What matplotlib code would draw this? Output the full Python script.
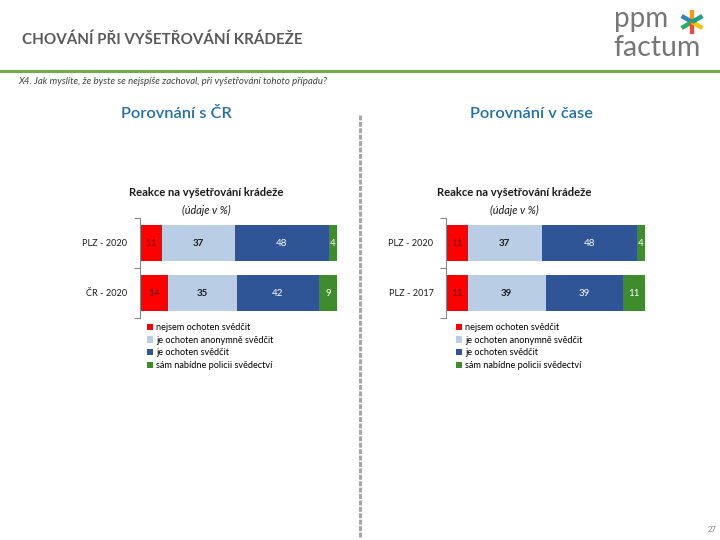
import matplotlib
matplotlib.use("Agg")
import matplotlib.pyplot as plt
from matplotlib.lines import Line2D
import numpy as np

# ---- data ----
categories_left = ["PLZ - 2020", "ČR - 2020"]
categories_right = ["PLZ - 2020", "PLZ - 2017"]
series_names = ["nejsem ochoten svědčit", "je ochoten anonymně svědčit",
                "je ochoten svědčit", "sám nabídne policii svědectví"]
left_values = [[11, 14], [37, 35], [48, 42], [4, 9]]
right_values = [[11, 11], [37, 39], [48, 39], [4, 11]]

colors = ["#FF0000", "#B9CDE5", "#2F5597", "#3F8C2C"]
label_colors = ["#5a0000", "#1a1a1a", "white", "white"]

FONT = ["Lato", "DejaVu Sans"]
plt.rcParams['font.family'] = FONT

W, H = 720, 540
fig = plt.figure(figsize=(7.2, 5.4), dpi=100)

def fx(x): return x / W
def fy(y): return 1 - y / H

# header
fig.text(fx(22), fy(40), "CHOVÁNÍ PŘI VYŠETŘOVÁNÍ KRÁDEŽE", fontsize=10.9,
         fontweight='bold', color="#595959", va='center', ha='left')
fig.add_artist(Line2D([0, 1], [fy(71), fy(71)], color="#70AD47", lw=2.2,
                      transform=fig.transFigure))
fig.text(fx(18), fy(81), "X4. Jak myslíte, že byste se nejspíše zachoval, při vyšetřování tohoto případu?",
         fontsize=6.9, style='italic', color="#404040", va='center', ha='left')
fig.text(fx(176), fy(114), "Porovnání s ČR", fontsize=11.8, color="#1F6FA5",
         va='center', ha='center', fontweight='semibold')
fig.text(fx(532), fy(114), "Porovnání v čase", fontsize=11.8, color="#1F6FA5",
         va='center', ha='center', fontweight='semibold')

# dashed separator
fig.add_artist(Line2D([fx(360), fx(360)], [fy(115), fy(538)], color="#A6A6A6",
                      lw=2.2, linestyle=(0, (1.6, 0.5)), transform=fig.transFigure))

# logo
fig.text(fx(614), fy(27), "ppm", fontsize=20, color="#767676", va='baseline',
         ha='left', fontweight='normal')
fig.text(fx(613), fy(56), "factum", fontsize=20.5, color="#767676", va='baseline',
         ha='left', fontweight='normal')
cx, cy = 692, 22
star_cols = ["#F39C12", "#2E86C1", "#27AE60", "#E74C3C", "#F1C40F", "#16A085"]
for i, c in enumerate(star_cols):
    ang = np.pi / 2 + i * np.pi / 3
    fig.add_artist(Line2D([fx(cx), fx(cx + 12 * np.cos(ang))],
                          [fy(cy), fy(cy - 12 * np.sin(ang))],
                          color=c, lw=3.2, solid_capstyle='butt',
                          transform=fig.transFigure))

fig.text(fx(712), fy(530), "27", fontsize=5.5, color="#808080", va='center', ha='center')


def draw_chart(x0, x1, cats, vals, title_cx, legend_x):
    ax = fig.add_axes([fx(x0), fy(318), fx(x1) - fx(x0), (318 - 218) / H])
    y = np.arange(len(cats))
    left = np.zeros(len(cats))
    handles = []
    for k, (name, v) in enumerate(zip(series_names, vals)):
        v = np.array(v, dtype=float)
        b = ax.barh(y, v, left=left, height=0.72, color=colors[k], label=name)
        handles.append(b)
        for yi, (l, w) in enumerate(zip(left, v)):
            ax.text(l + w / 2, yi, f"{int(w)}", ha='center', va='center',
                    fontsize=7, color=label_colors[k], clip_on=True,
                    fontweight='bold' if k == 1 else 'normal')
        left = left + v
    ax.set_xlim(0, 100)
    ax.set_ylim(1.5, -0.5)
    for s in ['top', 'right', 'bottom']:
        ax.spines[s].set_visible(False)
    ax.spines['left'].set_color("#868686")
    ax.spines['left'].set_linewidth(0.8)
    ax.set_xticks([])
    ax.set_yticks(y)
    ax.set_yticklabels(cats, fontsize=6.6, color="#1a1a1a")
    ax.tick_params(axis='y', which='major', length=0, pad=9)
    ax.set_yticks([-0.5, 0.5, 1.5], minor=True)
    ax.tick_params(axis='y', which='minor', length=4, color="#868686", width=0.8)
    fig.text(fx(title_cx), fy(193), "Reakce na vyšetřování krádeže", fontsize=8.1,
             fontweight='bold', ha='center', va='center', color="#1a1a1a")
    fig.text(fx(title_cx), fy(210), "(údaje v %)", fontsize=7.8, style='italic',
             ha='center', va='center', color="#1a1a1a")
    fig.legend(handles=handles, labels=series_names, loc='upper left',
               bbox_to_anchor=(fx(legend_x), fy(323)), frameon=False,
               fontsize=6.6, handlelength=0.7, handleheight=0.7,
               handletextpad=0.3, labelspacing=0.4, borderpad=0,
               borderaxespad=0)
    return ax

draw_chart(140, 337, categories_left, left_values, 206, 147)
draw_chart(446, 645, categories_right, right_values, 514, 456)

fig.savefig("out.png", dpi=100)
